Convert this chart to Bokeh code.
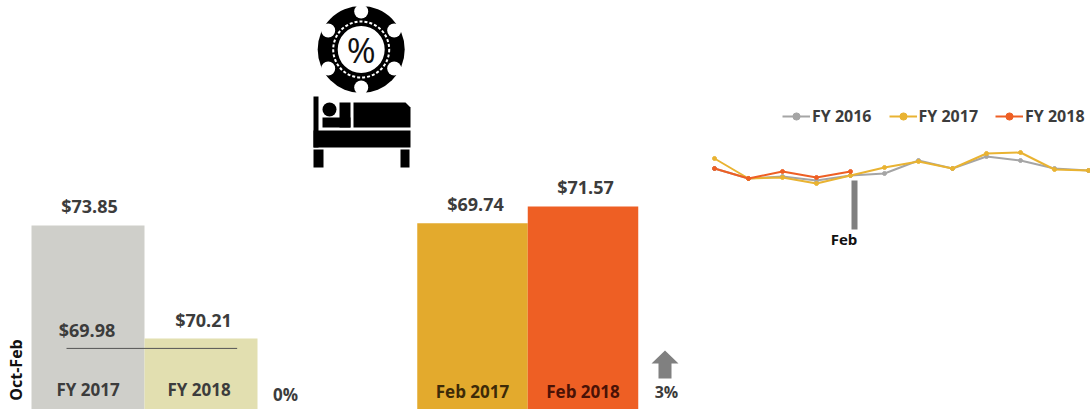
from bokeh.plotting import figure
from bokeh.models import Range1d, Legend, LegendItem
from bokeh.core.properties import value
from bokeh.embed import file_html
from bokeh.resources import INLINE

# ---- data ----
oct_feb_years = ["FY 2017", "FY 2018"]
oct_feb_values = [73.85, 70.21]
oct_feb_labels = ["$73.85", "$70.21"]
oct_feb_reference = 69.89
oct_feb_reference_label = "$69.98"
oct_feb_change = "0%"

feb_years = ["Feb 2017", "Feb 2018"]
feb_values = [69.74, 71.57]
feb_labels = ["$69.74", "$71.57"]
feb_change = "3%"

months = ["Oct", "Nov", "Dec", "Jan", "Feb", "Mar", "Apr", "May", "Jun", "Jul", "Aug", "Sep"]
fy2016 = [72.94, 68.37, 69.28, 67.45, 69.74, 70.66, 76.60, 72.94, 78.43, 76.60, 72.94, 72.03]
fy2017 = [77.52, 68.37, 68.83, 66.08, 69.74, 73.40, 76.15, 72.94, 79.81, 80.26, 72.49, 72.03]
fy2018 = [72.94, 68.37, 71.57, 68.83, 71.57]
series_names = ["FY 2016", "FY 2017", "FY 2018"]

W, H = 1090, 409
FONT = value("Open Sans")
DARK = "#3c3c3c"
GREY = "#808080"

p = figure(width=W, height=H, x_range=(0, W), y_range=(H, 0), tools="", toolbar_location=None,
           output_backend="svg", x_axis_location=None, y_axis_location=None,
           min_border=0, outline_line_color=None, background_fill_color="white")
p.grid.visible = False
p.styles = {"position": "absolute", "left": "0", "top": "0"}


def x_scale(px0, px_per_unit):
    """x range on which index 0 falls at pixel px0."""
    return Range1d(start=-px0 / px_per_unit, end=(W - px0) / px_per_unit)


def y_scale(px0, px_per_unit, v0):
    """y range on which value v0 falls px0 pixels below the top, larger values upward."""
    return Range1d(start=v0 - (H - px0) / px_per_unit, end=v0 + px0 / px_per_unit)


p.extra_x_ranges = {"oct_x": x_scale(87.5, 113), "feb_x": x_scale(472, 110.5), "line_x": x_scale(714, 34)}
p.extra_y_ranges = {
    "oct_y": y_scale(225, 31.04, 73.85),
    "feb_y": y_scale(222.7, 9.13, 69.74),
    "line_y": y_scale(175, 2.186, 69.74),
}

OCT = dict(x_range_name="oct_x", y_range_name="oct_y")
FEB = dict(x_range_name="feb_x", y_range_name="feb_y")
LIN = dict(x_range_name="line_x", y_range_name="line_y")
oct_base = p.extra_y_ranges["oct_y"].start
feb_base = p.extra_y_ranges["feb_y"].start

TXT = dict(text_font=FONT, text_font_style="bold", text_align="center", text_baseline="middle")

# ---- Oct-Feb bars ----
p.vbar(x=[0, 1], top=oct_feb_values, bottom=oct_base, width=1, line_color=None,
       fill_color=["#cfcfca", "#e2dfb0"], **OCT)
p.line(x=[-0.19, 1.32], y=[oct_feb_reference] * 2, line_color="#555555", line_width=1, **OCT)
p.text(x=[0, 1], y=oct_feb_values, text=oct_feb_labels, text_font_size="18px", text_color=DARK,
       x_offset=[1.5, 2.5], y_offset=[-20, -18], **TXT, **OCT)
p.text(x=[0], y=[oct_feb_reference], text=[oct_feb_reference_label], text_font_size="18px",
       text_color=DARK, x_offset=-1, y_offset=-18, **TXT, **OCT)
p.text(x=[0, 1], y=[oct_base] * 2, text=oct_feb_years, text_font_size="17px", text_color=DARK,
       x_offset=[0, -2], y_offset=-20.5, **TXT, **OCT)
p.text(x=[285], y=[394], text=[oct_feb_change], text_font_size="17px", text_color=DARK, **TXT)
p.text(x=[15.5], y=[369.5], text=["Oct-Feb"], text_font_size="16px", text_color="#111111",
       angle=1.5708, **TXT)

# ---- February bars ----
p.vbar(x=[0, 1], top=feb_values, bottom=feb_base, width=1, line_color=None,
       fill_color=["#e3aa2d", "#ee5f24"], **FEB)
p.text(x=[0, 1], y=feb_values, text=feb_labels, text_font_size="18px", text_color=DARK,
       x_offset=[3, 2.5], y_offset=-19.5, **TXT, **FEB)
p.text(x=[0, 1], y=[feb_base] * 2, text=feb_years, text_font_size="17px",
       text_color=["#3d2a08", "#4a1206"], y_offset=-18, **TXT, **FEB)
p.patch(x=[664.5, 678, 671, 671, 658, 658, 651], y=[350, 363, 363, 378, 378, 363, 363],
        fill_color=GREY, line_color=None)
p.text(x=[666], y=[391.5], text=[feb_change], text_font_size="16px", text_color=DARK, **TXT)

# ---- monthly lines ----
legend_items = []
idx = list(range(len(months)))
for name, vals, col in zip(series_names, [fy2016, fy2017, fy2018], ["#a5a5a5", "#e9b332", "#ee5f24"]):
    xs = idx[:len(vals)]
    ln = p.line(xs, vals, line_color=col, line_width=2, **LIN)
    sc = p.scatter(xs, vals, size=4, fill_color=col, line_color=col, **LIN)
    legend_items.append(LegendItem(label=name, renderers=[ln, sc]))

legend = Legend(items=legend_items, orientation="horizontal", location=(782, H - 127),
                padding=0, margin=0, spacing=17, label_standoff=2, glyph_width=28, glyph_height=18,
                border_line_color=None, background_fill_alpha=0,
                label_text_font="Open Sans", label_text_font_style="bold",
                label_text_font_size="16px", label_text_color=DARK)
p.add_layout(legend, "center")

# Feb marker
p.quad(left=851, right=857, top=180, bottom=229, fill_color=GREY, line_color=None)
p.text(x=[843.5], y=[238], text=[months[months.index("Feb")]], text_font_size="15px",
       text_color="#111111", **TXT)

# ---- chip icon ----
cx, cy = 360.7, 49
p.circle(x=[cx], y=[cy], radius=43.5, fill_color="black", line_color=None)
p.circle(x=[cx], y=[cy], radius=28, fill_color=None, line_color="white", line_width=2, line_dash="3 2")
p.circle(x=[cx], y=[cy], radius=23.5, fill_color="white", line_color=None)
p.circle(x=[cx, cx + 33, cx + 33, cx, cx - 33, cx - 33],
         y=[cy - 38, cy - 19, cy + 19, cy + 38, cy + 19, cy - 19],
         radius=7, fill_color="white", line_color=None)
p.text(x=[cx], y=[cy], text=["%"], text_font=FONT, text_font_size="35px",
       text_color="#111111", text_align="center", text_baseline="middle")

# ---- bed icon ----
BK = dict(fill_color="black", line_color=None)
p.quad(left=313, right=318, top=96, bottom=147, **BK)
p.quad(left=313, right=410, top=130, bottom=147, **BK)
p.quad(left=313, right=323, top=149, bottom=167, **BK)
p.quad(left=400, right=409, top=149, bottom=167, **BK)
p.circle(x=[329], y=[109], radius=7, **BK)
p.quad(left=322, right=350, top=117, bottom=127, **BK)
p.quad(left=339, right=350, top=102, bottom=127, **BK)
p.patch(x=[353, 405, 410, 410, 353], y=[102, 102, 107, 127, 127], **BK)

open("out.html", "w").write(file_html(p, INLINE))
